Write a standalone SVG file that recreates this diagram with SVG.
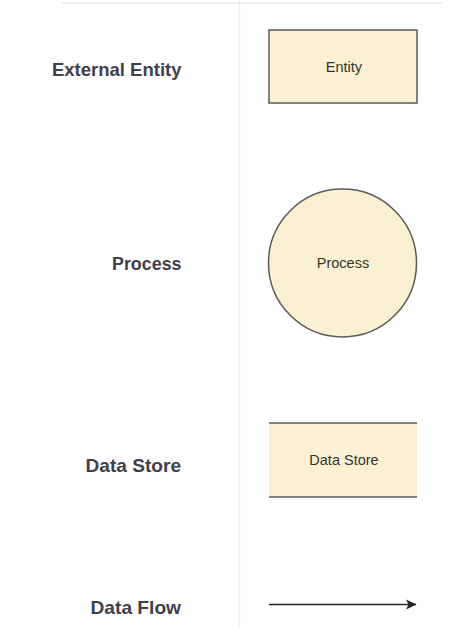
<svg xmlns="http://www.w3.org/2000/svg" width="474" height="638" viewBox="0 0 474 638">
<style>
.lbl{font-family:"Liberation Sans",Arial,sans-serif;font-weight:bold;font-size:18.5px;fill:#40404c;text-anchor:end}
.in{font-family:"Liberation Sans",Arial,sans-serif;font-size:14.5px;fill:#333333;text-anchor:middle}
.shape{fill:#fbf1d2;stroke:#5a5a5a;stroke-width:1.5}
.guide{stroke:#eeeeee;fill:none}
</style>
<defs>
<marker id="arr" markerWidth="12" markerHeight="12" refX="10" refY="6" orient="auto" markerUnits="userSpaceOnUse">
<path d="M0,1 L10.5,6 L0,11 L2.5,6 Z" fill="#222"/>
</marker>
</defs>
<rect width="474" height="638" fill="#ffffff"/>
<g id="guides">
<line class="guide" x1="62" y1="3" x2="442" y2="3" stroke-width="2"/>
<line class="guide" x1="239.5" y1="0" x2="239.5" y2="627" stroke-width="1.5"/>
</g>
<g id="labels">
<text class="lbl" x="181.5" y="75.5" textLength="129.5" lengthAdjust="spacingAndGlyphs">External Entity</text>
<text class="lbl" x="181.5" y="270" textLength="69.5" lengthAdjust="spacingAndGlyphs">Process</text>
<text class="lbl" x="181" y="472" textLength="95.5" lengthAdjust="spacingAndGlyphs">Data Store</text>
<text class="lbl" x="181" y="614" textLength="90.5" lengthAdjust="spacingAndGlyphs">Data Flow</text>
</g>
<g id="entity">
<rect class="shape" x="269" y="30" width="148" height="73"/>
<text class="in" x="344" y="72">Entity</text>
</g>
<g id="process">
<circle class="shape" cx="342.5" cy="263" r="74"/>
<text class="in" x="343" y="268">Process</text>
</g>
<g id="datastore">
<rect x="269" y="423" width="148" height="74" fill="#fbf1d2"/>
<line x1="269" y1="423" x2="417" y2="423" stroke="#5a5a5a" stroke-width="1.5"/>
<line x1="269" y1="497" x2="417" y2="497" stroke="#5a5a5a" stroke-width="1.5"/>
<text class="in" x="344" y="465">Data Store</text>
</g>
<g id="connectors">
<line x1="269" y1="604.5" x2="416" y2="604.5" stroke="#222" stroke-width="1.3" marker-end="url(#arr)"/>
</g>
</svg>
